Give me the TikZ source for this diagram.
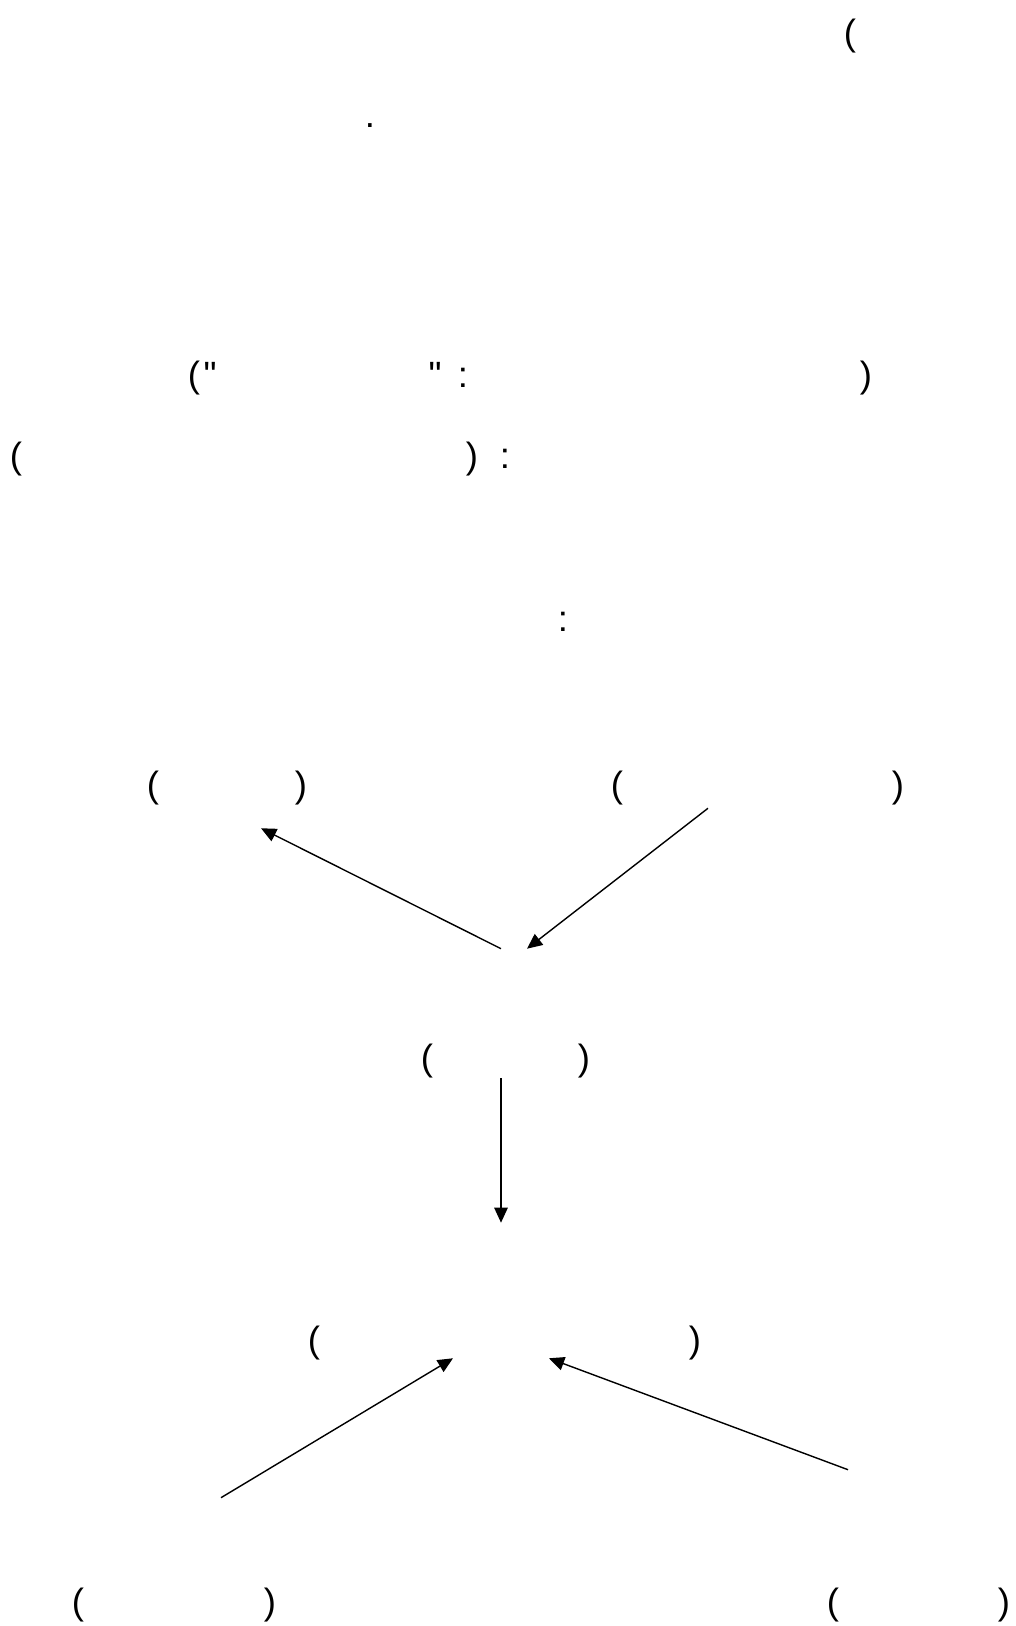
\documentclass[tikz,border=0pt]{standalone}
\usepackage{fontspec}
\setmainfont{Liberation Sans}
\usepackage{tikz}
\usetikzlibrary{arrows.meta}

\begin{document}
\begin{tikzpicture}[>={Triangle[length=0.38cm, width=0.34cm]},
  glyph/.style={anchor=base, inner sep=0pt, font=\fontsize{26}{31}\selectfont},
  blk/.style={inner sep=0pt, minimum width=1cm},
  link/.style={->, line width=1pt}]
  \useasboundingbox (0,0) rectangle (25.375,40.65);

  \node[glyph] (topopen) at (21.25, 39.51) {(};
  \node[glyph] (topdot) at (9.25, 37.47) {.};

  \node[glyph] (qopen) at (4.85, 30.96) {(};
  \node[glyph] (qleft) at (5.25, 30.96) {\textquotedbl};
  \node[glyph] (qright) at (10.875, 30.96) {\textquotedbl};
  \node[glyph] (qcolon) at (11.575, 30.96) {:};
  \node[glyph] (qclose) at (21.65, 30.96) {)};

  \node[glyph] (sopen) at (0.4, 28.94) {(};
  \node[glyph] (sclose) at (11.8, 28.94) {)};
  \node[glyph] (scolon) at (12.625, 28.94) {:};

  \node[glyph] (hcolon) at (14.075, 24.86) {:};

  \node[glyph] (ltopen) at (3.825, 20.71) {(};
  \node[glyph] (ltclose) at (7.525, 20.71) {)};
  \node[glyph] (rtopen) at (15.425, 20.71) {(};
  \node[glyph] (rtclose) at (22.45, 20.71) {)};

  \node[glyph] (midopen) at (10.675, 13.89) {(};
  \node[glyph] (midclose) at (14.6, 13.89) {)};

  \node[glyph] (lowopen) at (7.85, 6.84) {(};
  \node[glyph] (lowclose) at (17.375, 6.84) {)};

  \node[glyph] (lbopen) at (1.95, 0.29) {(};
  \node[glyph] (lbclose) at (6.75, 0.29) {)};
  \node[glyph] (rbopen) at (20.825, 0.29) {(};
  \node[glyph] (rbclose) at (25.1, 0.29) {)};

  \node[blk, minimum height=1.5cm] (lt) at (6.525, 20.7) {};
  \node[blk, minimum height=1.5cm] (rt) at (17.7, 21.2) {};
  \node[blk, minimum height=3.225cm] (mid) at (12.525, 15.3125) {};
  \node[blk, minimum height=3.375cm] (low) at (12.525, 8.3875) {};
  \node[blk, minimum height=3.1cm] (lb) at (5.525, 1.65) {};
  \node[blk, minimum height=3.75cm] (rb) at (21.2, 2.025) {};

  \draw[link] (mid.north) -- (lt.south);
  \draw[link] (rt.south) -- ([xshift=0.65cm]mid.north);
  \draw[link] (mid.south) -- (low.north);
  \draw[link] (lb.north) -- ([xshift=-1.2cm]low.south);
  \draw[link] (rb.north) -- ([xshift=1.2cm]low.south);
\end{tikzpicture}
\end{document}
